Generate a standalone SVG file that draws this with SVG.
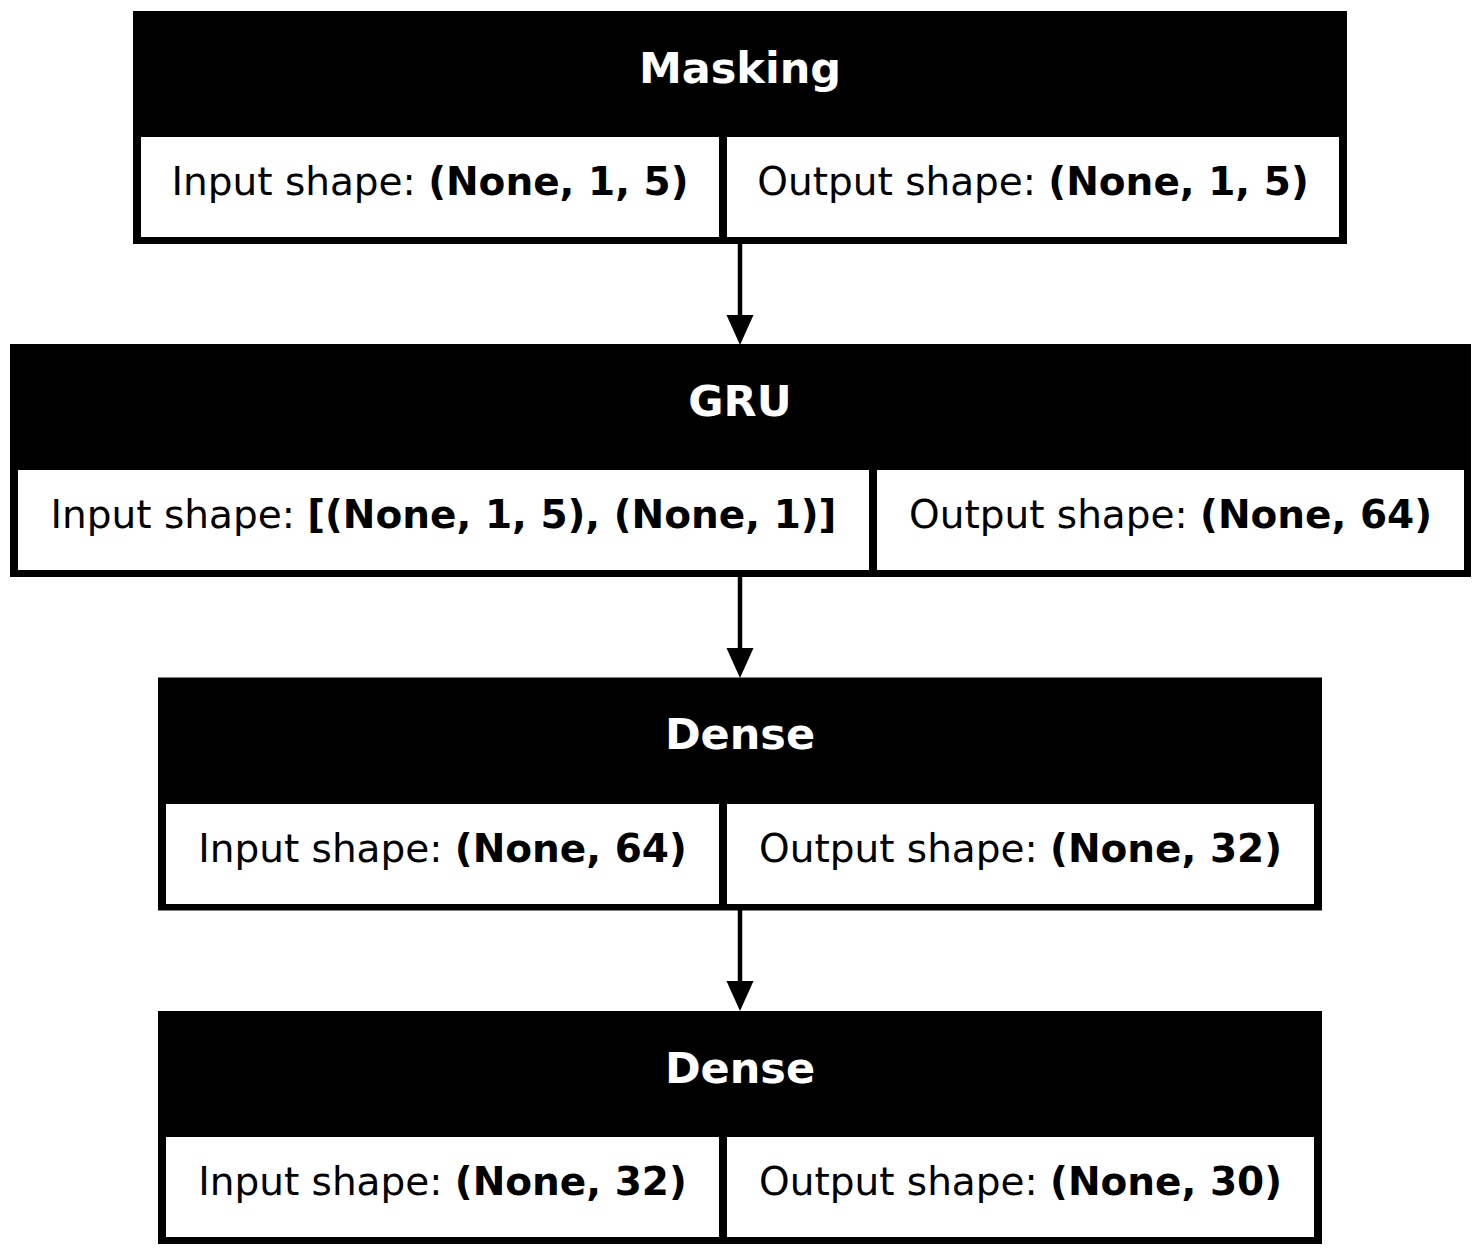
<svg xmlns="http://www.w3.org/2000/svg" width="1481" height="1256" viewBox="0 0 1481 1256">
<style>
.frame{fill:#000;stroke:none}
.cell{fill:#fff;stroke:none}
.title{font-family:"DejaVu Sans",sans-serif;font-weight:bold;font-size:43px;fill:#fff;text-anchor:middle}
.lbl{font-family:"DejaVu Sans",sans-serif;font-size:39px;fill:#000;text-anchor:middle}
.b{font-weight:bold}
.edge{stroke:#000;stroke-width:4.5;fill:none}
.head{fill:#000;stroke:none}
</style>
<rect x="0" y="0" width="1481" height="1256" fill="#fff"/>
<g id="masking">
<rect class="frame" x="133" y="11" width="1214" height="233"/>
<rect class="cell" x="141" y="137" width="578" height="100"/>
<rect class="cell" x="727" y="137" width="612" height="100"/>
<text class="title" x="740" y="83">Masking</text>
<text class="lbl" x="430" y="195">Input shape: <tspan class="b">(None, 1, 5)</tspan></text>
<text class="lbl" x="1033" y="195">Output shape: <tspan class="b">(None, 1, 5)</tspan></text>
</g>
<g id="gru">
<rect class="frame" x="10" y="344" width="1461" height="233"/>
<rect class="cell" x="18" y="470" width="851" height="100"/>
<rect class="cell" x="877" y="470" width="587" height="100"/>
<text class="title" x="740" y="416">GRU</text>
<text class="lbl" x="443.5" y="528">Input shape: <tspan class="b">[(None, 1, 5), (None, 1)]</tspan></text>
<text class="lbl" x="1170.5" y="528">Output shape: <tspan class="b">(None, 64)</tspan></text>
</g>
<g id="dense1">
<rect class="frame" x="158" y="677.5" width="1164" height="233"/>
<rect class="cell" x="166" y="804" width="553" height="100"/>
<rect class="cell" x="727" y="804" width="587" height="100"/>
<text class="title" x="740" y="749">Dense</text>
<text class="lbl" x="442.5" y="862">Input shape: <tspan class="b">(None, 64)</tspan></text>
<text class="lbl" x="1020.5" y="862">Output shape: <tspan class="b">(None, 32)</tspan></text>
</g>
<g id="dense2">
<rect class="frame" x="158" y="1011" width="1164" height="233"/>
<rect class="cell" x="166" y="1137" width="553" height="100"/>
<rect class="cell" x="727" y="1137" width="587" height="100"/>
<text class="title" x="740" y="1083">Dense</text>
<text class="lbl" x="442.5" y="1195">Input shape: <tspan class="b">(None, 32)</tspan></text>
<text class="lbl" x="1020.5" y="1195">Output shape: <tspan class="b">(None, 30)</tspan></text>
</g>
<g id="connectors">
<line class="edge" x1="740" y1="244" x2="740" y2="316"/>
<polygon class="head" points="726.5,315 753.5,315 740,345"/>
<line class="edge" x1="740" y1="577" x2="740" y2="649"/>
<polygon class="head" points="726.5,648 753.5,648 740,678"/>
<line class="edge" x1="740" y1="910" x2="740" y2="982"/>
<polygon class="head" points="726.5,981 753.5,981 740,1011"/>
</g>
</svg>
